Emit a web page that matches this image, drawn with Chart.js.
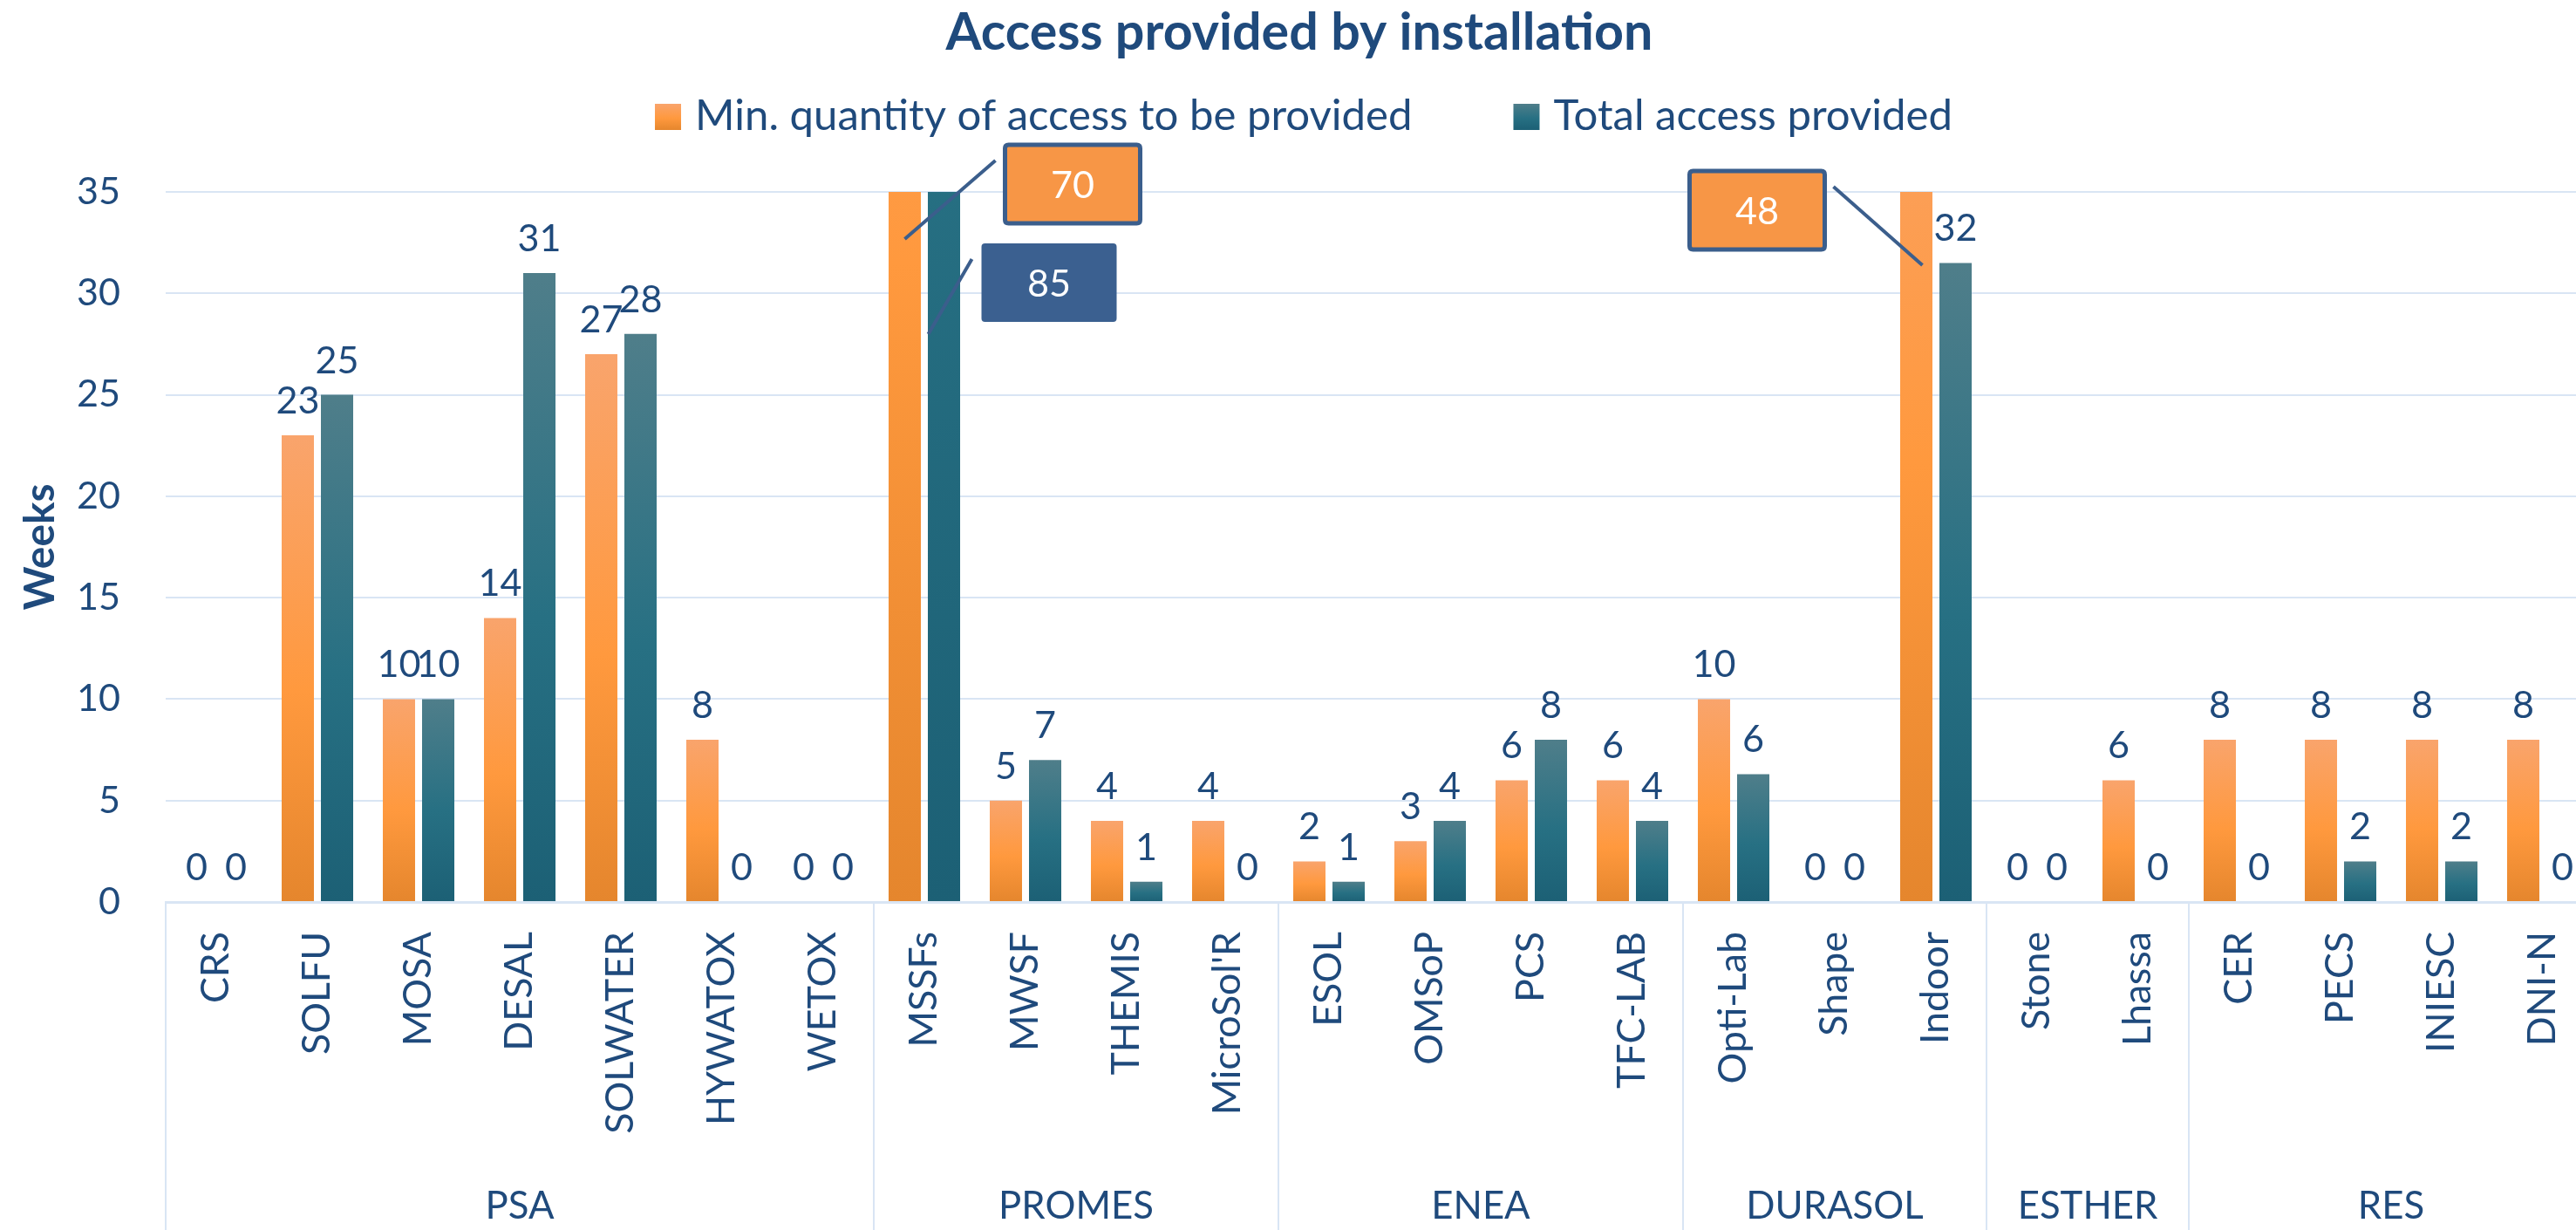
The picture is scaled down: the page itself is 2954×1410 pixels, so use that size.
<!DOCTYPE html>
<html><head><meta charset="utf-8">
<script src="https://cdn.jsdelivr.net/npm/chart.js"></script>
<style>html,body{margin:0;padding:0;overflow:hidden;background:#fff;}#wrap{width:2990px;height:1410px;}</style>
</head><body><div id="wrap"><canvas id="c" width="2990" height="1410"></canvas></div>
<script>
// ---- data ----
const categories = ['CRS','SOLFU','MOSA','DESAL','SOLWATER','HYWATOX','WETOX','MSSFs','MWSF','THEMIS',"MicroSol'R",'ESOL','OMSoP','PCS','TFC-LAB','Opti-Lab','Shape','Indoor','Stone','Lhassa','CER','PECS','INIESC','DNI-N'];
const groups = ['PSA','PROMES','ENEA','DURASOL','ESTHER','RES'];
const groupSizes = [7,4,4,3,2,4];
const minAccess = [0,23,10,14,27,8,0,70,5,4,4,2,3,6,6,10,0,48,0,6,8,8,8,8];
const totalAccess = [0,25,10,31,28,0,0,85,7,1,0,1,4,8,4,6.3,0,31.5,0,0,0,2,2,0];
const yTicks = [0,5,10,15,20,25,30,35];
const seriesNames = ['Min. quantity of access to be provided','Total access provided'];
const titleText = 'Access provided by installation';
const yTitle = 'Weeks';

// ---- style ----
const FONT = 'Lato, "Open Sans", sans-serif';
const TEXT = '#1F4A7C';
const GRID = '#D9E5F4';
const ORANGE = ['#F9A46C','#FF993E','#E5862D'];
const TEAL = ['#4F7E8A','#277083','#1C6075'];
const CENTER_X = 1495;

// font sizes chosen so that the substitute font matches the reference text widths
const mctx = document.createElement('canvas').getContext('2d');
function fitSize(sample, weight, targetWidth, cap){
  mctx.font = weight + ' 100px ' + FONT;
  const s = 100 * targetWidth / mctx.measureText(sample).width;
  return Math.round(Math.min(s, cap) * 10) / 10;
}
const SZ = {
  title: fitSize(titleText, 'bold', 811, 64),
  legend: fitSize(seriesNames[0], 'normal', 823, 52),
  cat: fitSize('SOLWATER', 'normal', 232, 52),
  tick: fitSize('35', 'normal', 50, 50),
  value: fitSize('10', 'normal', 50, 50),
  ytitle: fitSize(yTitle, 'bold', 145, 54),
  group: fitSize('PSA', 'normal', 79, 52),
  callout: fitSize('70', 'normal', 50, 52)
};

function barGradient(stops){
  return function(c){
    const chart = c.chart, area = chart.chartArea;
    if (!area || c.type !== 'data') return stops[1];
    const y = chart.scales.y;
    const top = y.getPixelForValue(c.raw), base = y.getPixelForValue(0);
    if (!(base - top > 0.5)) return stops[2];
    const g = chart.ctx.createLinearGradient(0, top, 0, base);
    g.addColorStop(0, stops[0]); g.addColorStop(0.55, stops[1]); g.addColorStop(1, stops[2]);
    return g;
  };
}

const valueLabels = {
  id:'valueLabels',
  afterDatasetsDraw(chart){
    const ctx = chart.ctx, yMax = chart.scales.y.max;
    ctx.save();
    ctx.font = SZ.value + 'px ' + FONT; ctx.fillStyle = TEXT; ctx.textAlign = 'center'; ctx.textBaseline = 'alphabetic';
    chart.data.datasets.forEach((ds, di) => {
      chart.getDatasetMeta(di).data.forEach((el, i) => {
        const v = ds.data[i];
        if (v > yMax) return;
        ctx.fillText(String(Math.round(v)), el.x, el.y - 25);
      });
    });
    ctx.restore();
  }
};

// callouts for values beyond the axis maximum (offsets relative to bar centre / plot top)
const calloutStyle = [
  {ds:0, cat:'MSSFs', box:[115,-54,155,90], line:[0,54,104,-36], fill:'#F79646', stroke:'#3B5E8C'},
  {ds:1, cat:'MSSFs', box:[43,59,155,90], line:[32,77,-18,163], fill:'#3B6090', stroke:null},
  {ds:0, cat:'Indoor', box:[-260,-24,155,90], line:[-95,-6,7,84], fill:'#F79646', stroke:'#3B5E8C'}
];
function rrect(ctx,x,y,w,h,r){
  ctx.beginPath();
  ctx.moveTo(x+r,y); ctx.lineTo(x+w-r,y); ctx.quadraticCurveTo(x+w,y,x+w,y+r);
  ctx.lineTo(x+w,y+h-r); ctx.quadraticCurveTo(x+w,y+h,x+w-r,y+h);
  ctx.lineTo(x+r,y+h); ctx.quadraticCurveTo(x,y+h,x,y+h-r);
  ctx.lineTo(x,y+r); ctx.quadraticCurveTo(x,y,x+r,y); ctx.closePath();
}
const callouts = {
  id:'callouts',
  afterDatasetsDraw(chart){
    const ctx = chart.ctx, top = chart.chartArea.top;
    ctx.save();
    calloutStyle.forEach(c => {
      const idx = categories.indexOf(c.cat);
      const el = chart.getDatasetMeta(c.ds).data[idx];
      const v = chart.data.datasets[c.ds].data[idx];
      const cx = el.x;
      ctx.strokeStyle = '#3B5E8C'; ctx.lineWidth = 4; ctx.lineCap = 'butt';
      ctx.beginPath(); ctx.moveTo(cx + c.line[0], top + c.line[1]); ctx.lineTo(cx + c.line[2], top + c.line[3]); ctx.stroke();
      const bx = cx + c.box[0], by = top + c.box[1], bw = c.box[2], bh = c.box[3];
      rrect(ctx, bx, by, bw, bh, 4);
      ctx.fillStyle = c.fill; ctx.fill();
      if (c.stroke){ ctx.strokeStyle = c.stroke; ctx.lineWidth = 5; ctx.stroke(); }
      ctx.fillStyle = '#FFFFFF'; ctx.font = SZ.callout + 'px ' + FONT; ctx.textAlign = 'center'; ctx.textBaseline = 'middle';
      ctx.fillText(String(v), bx + bw/2, by + bh/2 + 2);
    });
    ctx.restore();
  }
};

const groupAxis = {
  id:'groupAxis',
  afterDraw(chart){
    const ctx = chart.ctx, x = chart.scales.x, area = chart.chartArea;
    const half = (x.getPixelForValue(1) - x.getPixelForValue(0)) / 2;
    const bottom = chart.height;
    ctx.save();
    ctx.strokeStyle = GRID; ctx.lineWidth = 2;
    const vline = (px) => { ctx.beginPath(); ctx.moveTo(px, area.bottom); ctx.lineTo(px, bottom); ctx.stroke(); };
    vline(x.getPixelForValue(0) - half);
    ctx.font = SZ.group + 'px ' + FONT; ctx.fillStyle = TEXT; ctx.textAlign = 'center'; ctx.textBaseline = 'alphabetic';
    let start = 0;
    groups.forEach((g, gi) => {
      const end = start + groupSizes[gi];
      const left = x.getPixelForValue(start) - half;
      const right = x.getPixelForValue(end - 1) + half;
      vline(right);
      ctx.fillText(g, (left + right) / 2, bottom - 13);
      start = end;
    });
    ctx.restore();
  }
};

const headerPlugin = {
  id:'header',
  afterDraw(chart){
    const ctx = chart.ctx;
    ctx.save();
    ctx.fillStyle = TEXT; ctx.textAlign = 'center'; ctx.textBaseline = 'alphabetic';
    ctx.font = 'bold ' + SZ.title + 'px ' + FONT;
    ctx.fillText(titleText, CENTER_X - 5, 57);
    // legend
    ctx.font = SZ.legend + 'px ' + FONT;
    const box = 30, gap = 16, itemGap = 116;
    const w0 = ctx.measureText(seriesNames[0]).width, w1 = ctx.measureText(seriesNames[1]).width;
    const total = box + gap + w0 + itemGap + box + gap + w1;
    let lx = CENTER_X - total / 2;
    const boxTop = 119, base = 149;
    [[ORANGE, w0, seriesNames[0]], [TEAL, w1, seriesNames[1]]].forEach(([st, w, t]) => {
      const g = ctx.createLinearGradient(0, boxTop, 0, boxTop + box);
      g.addColorStop(0, st[0]); g.addColorStop(0.55, st[1]); g.addColorStop(1, st[2]);
      ctx.fillStyle = g; ctx.fillRect(lx, boxTop, box, box);
      ctx.fillStyle = TEXT; ctx.textAlign = 'left';
      ctx.fillText(t, lx + box + gap, base);
      lx += box + gap + w + itemGap;
    });
    ctx.restore();
  }
};

new Chart(document.getElementById('c'), {
  type:'bar',
  data:{
    labels: categories,
    datasets:[
      {label: seriesNames[0], data: minAccess, backgroundColor: barGradient(ORANGE), borderWidth:0, clip:0},
      {label: seriesNames[1], data: totalAccess, backgroundColor: barGradient(TEAL), borderWidth:0, clip:0}
    ]
  },
  options:{
    responsive:false, animation:false, devicePixelRatio:1,
    categoryPercentage:0.776, barPercentage:0.822,
    layout:{padding:{top:220, left:0, right:16, bottom:0}},
    plugins:{legend:{display:false}, title:{display:false}, tooltip:{enabled:false}},
    scales:{
      x:{
        grid:{display:false, drawTicks:false},
        border:{display:true, color:GRID, width:3},
        ticks:{autoSkip:false, maxRotation:90, minRotation:90, padding:34, color:TEXT, font:{family:FONT, size:SZ.cat}},
        afterFit(s){ s.height = 376; s.paddingLeft = 0; s.paddingRight = 0; }
      },
      y:{
        min:0, max:35,
        afterBuildTicks(s){ s.ticks = yTicks.map(v => ({value:v})); },
        grid:{color:GRID, lineWidth:2, drawTicks:false},
        border:{display:false},
        ticks:{padding:52, color:TEXT, font:{family:FONT, size:SZ.tick}},
        title:{display:true, text:yTitle, color:TEXT, font:{family:FONT, size:SZ.ytitle, weight:'bold'}, padding:{top:18, bottom:0}},
        afterFit(s){ s.width = 190; s.paddingTop = 0; s.paddingBottom = 0; }
      }
    }
  },
  plugins:[valueLabels, callouts, groupAxis, headerPlugin]
});
</script></body></html>
